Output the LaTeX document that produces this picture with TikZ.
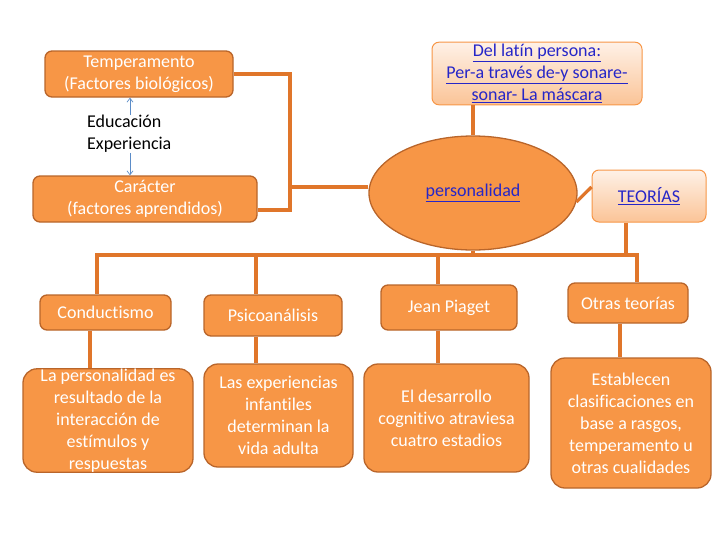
\documentclass[tikz,border=0pt]{standalone}
\usepackage{fontspec}
\setmainfont{Carlito}[Ligatures=NoCommon]
\usepackage{tikz}
\usetikzlibrary{positioning, shapes.geometric, arrows.meta}
\definecolor{boxfill}{HTML}{F79646}
\definecolor{boxline}{HTML}{B9652A}
\definecolor{linkline}{HTML}{E0762A}
\definecolor{peachtop}{HTML}{FEF1E7}
\definecolor{peachbot}{HTML}{FBC497}
\definecolor{linkblue}{HTML}{2626C8}
\definecolor{arrowblue}{HTML}{5B8CC8}
\tikzset{
  block/.style={rectangle, rounded corners=7pt, draw=boxline, line width=1.3pt, fill=boxfill, text=white, align=center, inner sep=2pt},
  bigblock/.style={block, rounded corners=14pt, inner ysep=0pt},
  peach/.style={rectangle, rounded corners=7pt, draw=boxfill, line width=1pt, top color=peachtop, bottom color=peachbot, text=linkblue, align=center, inner sep=2pt},
  link/.style={draw=linkline, line width=3.2pt},
}

\begin{document}
\begin{tikzpicture}[x=1pt, y=-1pt, font=\fontsize{18}{22}\selectfont]
  \tikzset{
    oval/.style={ellipse, draw=boxline, line width=1.3pt, fill=boxfill, text=linkblue, inner sep=0pt},
    thinarrow/.style={-{Straight Barb[length=4pt, width=6pt]}, draw=arrowblue, line width=0.7pt},
  }
  \useasboundingbox (0,0) rectangle (728,546);

  % Nodes
  \node[block, minimum width=188pt, minimum height=46pt] (temp) at (139,74) {Temperamento\\(Factores biológicos)};
  \node[block, minimum width=224pt, minimum height=46pt] (car) at (145,199) {Carácter\\(factores aprendidos)};
  \node[align=left, inner sep=0pt, anchor=north west] (edu) at (87,115) {Educación\\Experiencia};
  \node[peach, minimum width=210pt, minimum height=57pt] (latin) at (537,73.5)
    {\underline{Del latín persona:}\\\underline{Per-a través de-y sonare-}\\\underline{sonar- La máscara}};
  \node[oval, minimum width=208pt, minimum height=114pt] (pers) at (473,193) {\underline{personalidad}};
  \node[peach, minimum width=114pt, minimum height=52pt] (teor) at (649,196) {\underline{TEORÍAS}};

  \node[block, minimum width=131pt, minimum height=35pt] (cond) at (105.5,312.5) {Conductismo};
  \node[block, minimum width=138pt, minimum height=41pt] (psi) at (273,315.5) {Psicoanálisis};
  \node[block, minimum width=136pt, minimum height=45pt] (piag) at (449,307.5) {Jean Piaget};
  \node[block, minimum width=120pt, minimum height=40pt] (otras) at (628,303) {Otras teorías};

  \node[bigblock, minimum width=170pt, minimum height=103pt] (b1) at (108,420.5)
    {La personalidad es\\resultado de la\\interacción de\\estímulos y\\respuestas};
  \node[bigblock, minimum width=149pt, minimum height=103pt] (b2) at (278.5,415.5)
    {Las experiencias\\infantiles\\determinan la\\vida adulta};
  \node[bigblock, minimum width=165pt, minimum height=108pt] (b3) at (446.5,418)
    {El desarrollo\\cognitivo atraviesa\\cuatro estadios};
  \node[bigblock, minimum width=160pt, minimum height=130pt] (b4) at (631,423)
    {Establecen\\clasificaciones en\\base a rasgos,\\temperamento u\\otras cualidades};

  \coordinate (brk) at (290,187);
  \coordinate (busL) at (97,255);
  \coordinate (busR) at (637,255);

  % Links
  \draw[link] (temp.east) -| (brk) |- ([yshift=-11pt]car.east);
  \draw[link] (brk) -- (brk -| pers.west);
  \draw[link] (latin.south -| pers.north) -- (pers.north);
  \draw[link] (pers.-5) -- ([yshift=9pt]teor.west);
  \draw[link] ([xshift=-23pt]teor.south) -- ([xshift=-23pt]teor.south |- busR);
  \draw[link] (busL |- cond.north) -- (busL) -- (busR) -- (busR |- otras.north);
  \draw[link] (pers.south) -- (pers.south |- busL);
  \foreach \x/\n in {256/psi, 438/piag}
    \draw[link] (\x,255) -- (\x,0 |- \n.north);
  \foreach \x/\a/\b in {90/cond/b1, 256/psi/b2, 438/piag/b3, 620/otras/b4}
    \draw[link] (\x,0 |- \a.south) -- (\x,0 |- \b.north);

  % Arrows
  \draw[thinarrow] (130,0 |- edu.north) -- (130,0 |- temp.south);
  \draw[thinarrow] (130,0 |- edu.south) -- (130,0 |- car.north);

\end{tikzpicture}
\end{document}
